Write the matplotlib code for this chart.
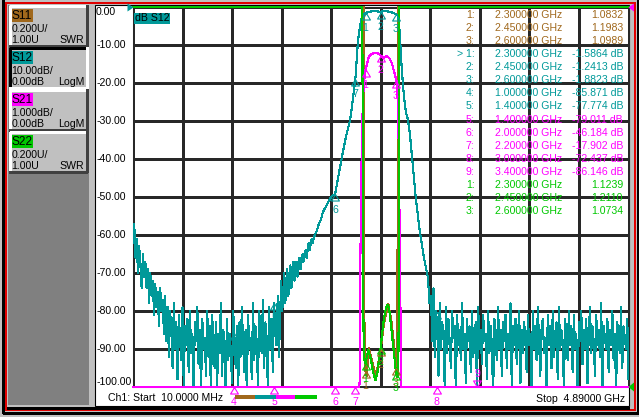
import numpy as np
import matplotlib.pyplot as plt
from matplotlib.patches import Rectangle, Polygon

plt.rcParams['font.family'] = ['Liberation Sans', 'DejaVu Sans']
plt.rcParams['lines.antialiased'] = False   # crisp, like the analyzer screen

BROWN = '#a0681c'
TEAL = '#009999'
MAGENTA = '#ff00ff'
GREEN = '#00c800'
GRID = '#282828'
FS = 7.6

# sweep (GHz)
f_start, f_stop = 0.01, 4.89

# ---- S12, dB (10 dB/div, ref 0 dB at top) ----
s12_floor_lo = [-62, -57, -66, -61, -70, -63, -68, -74, -65, -71,
                -67, -74, -69, -78, -70, -76, -72, -81, -73, -79, -75, -84, -74, -80, -77, -86,
                -76, -88, -79, -92, -80, -85, -95, -78, -90, -83, -98, -81, -87, -93, -79, -100,
                -84, -89, -82, -96, -80, -91, -86, -101, -83, -88,
                -79, -94, -85, -102, -82, -90, -87, -97, -80, -92, -84, -103, -81, -89, -95, -83,
                -100, -86, -91, -78, -97, -85, -88, -104, -82, -93, -86, -90, -99, -80, -87, -95,
                -84, -101, -83, -92, -79, -89, -96, -85, -102, -81, -90, -87, -98,
                -78, -93, -84, -88, -100, -80, -86, -91, -77, -95, -83, -87, -101, -79, -90, -82,
                -96, -78, -85, -89, -76, -92, -80]
s12_mid_f = [1.47, 1.48, 1.50, 1.51, 1.53, 1.54, 1.56, 1.57, 1.59, 1.60, 1.62, 1.63, 1.65,
             1.66, 1.68, 1.69, 1.71, 1.72, 1.74, 1.75, 1.77, 1.78, 1.80, 1.82, 1.84, 1.86,
             1.88, 1.90, 1.92, 1.94, 1.96, 1.98, 2.00,
             2.05, 2.10, 2.15, 2.20, 2.215, 2.226, 2.246, 2.262, 2.278, 2.30, 2.33, 2.37,
             2.41, 2.45, 2.49, 2.53, 2.57, 2.60, 2.62, 2.63, 2.645, 2.656, 2.67, 2.685, 2.70,
             2.718, 2.738, 2.768, 2.797, 2.837, 2.876, 2.915, 2.93]
s12_mid_db = [-72, -80, -70, -78, -69, -76, -68, -74, -67, -72, -67, -71, -66,
              -69, -65, -67, -64, -66, -62, -64, -61, -62, -60, -59, -57, -56,
              -54, -53, -52, -51, -50, -49.5, -49.3,
              -42, -35, -29.5, -19.0, -13, -8.7, -5.0, -2.8, -2.0, -1.59, -1.3, -1.1,
              -1.15, -1.24, -1.1, -1.2, -1.5, -1.88, -2.3, -4.0, -10.5, -15.8, -21, -25, -28,
              -29.7, -33.7, -42.4, -50.8, -59.5, -66, -71.3, -78]
s12_floor_hi = [-76, -88, -74, -92, -80, -84, -97, -78, -90, -83, -86, -100, -79, -91, -82, -88, -95, -80, -87, -84,
                -102, -81, -89, -85, -93, -78, -90, -86, -99, -82, -88, -84, -96, -80, -92, -87, -83, -101, -79, -90,
                -85, -94, -81, -88, -86, -98, -80, -91, -84, -89, -103, -82, -87, -93, -79, -90, -85, -97, -83, -88,
                -81, -95, -86, -90, -78, -100, -84, -89, -82, -94, -87, -80, -99, -85, -91, -83, -88, -96, -81, -89,
                -86, -102, -80, -90, -84, -93, -79, -88, -97, -85, -82, -91, -87, -100, -81, -89, -84, -95, -80, -92,
                -86, -83, -98, -79, -90, -85, -88, -101, -82, -87, -93, -80, -89, -84, -96, -81, -90, -86, -104, -83,
                -88, -80, -94, -85, -90, -82, -99, -86, -79, -91, -84, -88, -97, -81, -89, -85, -92, -78, -100, -84,
                -87, -90, -82, -96, -85, -89, -80, -93, -86, -102, -83, -88, -91, -79, -95, -84, -87, -90, -82, -98]

# ---- S21, dB (1 dB/div, ref 0 dB at top) ----
s21_f = [0.01, 1.0, 1.4, 2.0, 2.2, 2.238, 2.244, 2.248, 2.258, 2.268, 2.28, 2.29, 2.30,
         2.312, 2.327, 2.344, 2.377, 2.410, 2.443, 2.475, 2.502, 2.534, 2.558, 2.583,
         2.607, 2.617, 2.623, 2.635, 2.643, 2.647, 3.0, 3.4, 4.89]
s21_db = [-70, -86, -79.011, -46.184, -17.902, -10.5, -9.8, -7.0, -4.5, -3.0, -2.2, -1.85, -1.66,
          -1.53, -1.35, -1.26, -1.22, -1.2, -1.26, -1.34, -1.29, -1.34, -1.47, -1.71,
          -1.97, -2.45, -2.97, -5.5, -7.2, -10.5, -72.437, -86.146, -85]

# ---- S11 / S22, SWR (0.2 U/div, ref 1.00 U at bottom) ----
s11_f = [0.01, 2.283, 2.29, 2.30, 2.312, 2.334, 2.361, 2.403, 2.45, 2.482, 2.524, 2.558,
         2.59, 2.60, 2.608, 2.614, 2.62, 4.89]
s11_swr = [5.0, 5.0, 1.20, 1.0832, 1.06, 1.205, 1.142, 1.053, 1.1983, 1.337, 1.437, 1.337,
           1.17, 1.0989, 1.11, 1.30, 5.0, 5.0]
s22_f = [0.01, 2.268, 2.28, 2.29, 2.30, 2.327, 2.354, 2.374, 2.398, 2.418, 2.45, 2.462,
         2.482, 2.502, 2.517, 2.531, 2.551, 2.571, 2.591, 2.60, 2.615, 2.625, 2.632, 4.89]
s22_swr = [5.0, 5.0, 1.30, 1.14, 1.1239, 1.195, 1.142, 1.079, 1.037, 1.079, 1.211, 1.274,
           1.363, 1.416, 1.432, 1.416, 1.326, 1.221, 1.126, 1.0734, 1.053, 1.195, 5.0, 5.0]

# ---- markers ----
s12_mk_num = [1, 2, 3, 4, 5, 6, 7, 8]
s12_mk_f = [2.3, 2.45, 2.6, 1.0, 1.4, 2.0, 2.2, 3.0]
s12_mk_db = [-1.5864, -1.2413, -1.8823, -85.871, -77.774, -49.3, -19.0, -80.3]
s21_mk_num = [1, 2, 3, 4, 5, 6, 7, 8, 9]
s21_mk_f = [2.3, 2.45, 2.6, 1.0, 1.4, 2.0, 2.2, 3.0, 3.4]
s21_mk_db = [-1.66, -1.26, -1.95, -86, -79.011, -46.184, -17.902, -72.437, -86.146]
swr_mk_num = [1, 2, 3]
swr_mk_f = [2.3, 2.45, 2.6]
s11_mk_swr = [1.0832, 1.1983, 1.0989]
s22_mk_swr = [1.1239, 1.2110, 1.0734]

# ---- marker table ----
tbl_num = ['1:', '2:', '3:', '> 1:', '2:', '3:', '4:', '5:', '5:', '6:', '7:', '8:', '9:', '1:', '2:', '3:']
tbl_freq = [2.3, 2.45, 2.6, 2.3, 2.45, 2.6, 1.0, 1.4, 1.4, 2.0, 2.2, 3.0, 3.4, 2.3, 2.45, 2.6]
tbl_val = ['1.0832', '1.1983', '1.0989', '-1.5864 dB', '-1.2413 dB', '-1.8823 dB', '-85.871 dB',
           '-77.774 dB', '-79.011 dB', '-46.184 dB', '-17.902 dB', '-72.437 dB', '-86.146 dB',
           '1.1239', '1.2110', '1.0734']
tbl_trace = ['S11'] * 3 + ['S12'] * 5 + ['S21'] * 5 + ['S22'] * 3
colors = {'S11': BROWN, 'S12': TEAL, 'S21': MAGENTA, 'S22': GREEN}


def db10(v):        # 1 dB/div trace on the 10-div grid
    return np.clip(np.asarray(v, float) * 10, -100, 0)


def swr_disp(v):    # SWR 0.2/div, 1.00 at bottom
    return np.clip(-100 + 50 * (np.asarray(v, float) - 1), -100, 0)


f12 = np.concatenate([np.linspace(0.01, 1.46, len(s12_floor_lo)), s12_mid_f,
                      np.linspace(2.945, 4.89, len(s12_floor_hi))])
d12 = np.concatenate([s12_floor_lo, s12_mid_db, s12_floor_hi])

W, H = 639, 417
fig = plt.figure(figsize=(W / 100, H / 100), dpi=100)
fig.patch.set_facecolor('#c0c0c0')

# ---------- screen frame / left panel ----------
bg = fig.add_axes([0, 0, 1, 1], zorder=0)
bg.set_xlim(0, W)
bg.set_ylim(H, 0)
bg.axis('off')
bg.add_patch(Rectangle((94.5, 4.5), 534, 401, facecolor='white', edgecolor='black', lw=0.8))
bg.add_patch(Rectangle((8, 5), 81, 400, facecolor='#808080', edgecolor='none'))
bg.plot([5.5, 5.5, 635, 635, 5.5], [2.5, 410, 410, 2.5, 2.5], color='#e00000', lw=1.1)
bg.plot([3, 3, 637.5, 637.5], [0.5, 412.5, 412.5, 0.5], color='black', lw=0.8)
bg.plot([8, 628], [408, 408], color='black', lw=0.8)

boxes = [('S11', BROWN, '0.200U/', '1.00U', 'SWR', 5),
         ('S12', TEAL, '10.00dB/', '0.00dB', 'LogM', 47),
         ('S21', MAGENTA, '1.000dB/', '0.00dB', 'LogM', 89),
         ('S22', GREEN, '0.200U/', '1.00U', 'SWR', 131)]
for name, col, l2, l3, fmt, top in boxes:
    bg.add_patch(Rectangle((9, top), 78, 41, facecolor='#c0c0c0', edgecolor='none'))
    lt, dk = ('black', 'white') if name == 'S12' else ('white', '#404040')
    bg.plot([9.5, 9.5, 86.5], [top + 41, top + 0.5, top + 0.5], color=lt, lw=0.9)
    bg.plot([9.5, 86.5, 86.5], [top + 40.5, top + 40.5, top + 0.5], color=dk, lw=0.9)
    bg.add_patch(Rectangle((11, top + 4), 22, 13, facecolor=col, edgecolor='none'))
    bg.text(11.5, top + 10.8, name, fontsize=8.6, va='center', ha='left', color='black')
    bg.text(11.5, top + 23.5, l2, fontsize=FS, va='center', ha='left')
    bg.text(11.5, top + 35, l3, fontsize=FS, va='center', ha='left')
    bg.text(84.5, top + 35, fmt, fontsize=FS, va='center', ha='right')

# ---------- measurement grid ----------
x0, x1, y0, y1 = 133, 628.5, 7, 387
ax = fig.add_axes([x0 / W, 1 - y1 / H, (x1 - x0) / W, (y1 - y0) / H], zorder=2)
ax.patch.set_alpha(0)
ax.set_xlim(f_start, f_stop)
ax.set_ylim(-100, 0)
ax.set_xticks(np.linspace(f_start, f_stop, 11))
ax.set_xticklabels([])
yt = np.arange(-100, 1, 10)
ax.set_yticks(yt)
ax.set_yticklabels([f'{v:.2f}' for v in yt], fontsize=FS)
ax.tick_params(length=0, axis='y', pad=26.6)
ax.tick_params(length=0, axis='x')
for t, v in zip(ax.get_yticklabels(), yt):
    t.set_ha('left')
    t.set_va('top' if v == 0 else 'bottom' if v == -100 else 'center')
ax.grid(True, color=GRID, lw=0.75)
for s in ax.spines.values():
    s.set_color(GRID)
    s.set_linewidth(0.75)

# traces
ax.plot(s11_f, swr_disp(s11_swr), color=BROWN, lw=0.8, clip_on=False, zorder=3)
ax.plot(f12, d12, color=TEAL, lw=0.8, zorder=4)
ax.plot(s21_f, db10(s21_db), color=MAGENTA, lw=0.8, clip_on=False, zorder=5)
ax.plot(s22_f, swr_disp(s22_swr), color=GREEN, lw=0.8, clip_on=False, zorder=6)

UP = [(0, 0), (0.6, -1), (-0.6, -1), (0, 0)]
DOWN = [(0, 0), (0.6, 1), (-0.6, 1), (0, 0)]


def put_markers(fs, ys, nums, col, z):
    for f, y, n in zip(fs, ys, nums):
        inv = (col == MAGENTA and n == 9)
        ax.plot([f], [y], marker=DOWN if inv else UP, ms=9.4, mfc='none', mec=col,
                mew=0.8, ls='none', clip_on=False, zorder=z)
        ax.annotate(str(n), (f, y), xytext=(0, 9.5 if inv else -11), textcoords='offset points',
                    ha='center', va='center', color=col, fontsize=FS, annotation_clip=False,
                    zorder=z)


put_markers(swr_mk_f, swr_disp(s11_mk_swr), swr_mk_num, BROWN, 7)
put_markers(s12_mk_f, np.asarray(s12_mk_db), s12_mk_num, TEAL, 8)
put_markers(s21_mk_f, db10(s21_mk_db), s21_mk_num, MAGENTA, 9)
put_markers(swr_mk_f, swr_disp(s22_mk_swr), swr_mk_num, GREEN, 10)

# ---------- overlay: annotations and marker table ----------
ov = fig.add_axes([0, 0, 1, 1], zorder=3)
ov.set_xlim(0, W)
ov.set_ylim(H, 0)
ov.axis('off')
ov.patch.set_alpha(0)

ov.add_patch(Rectangle((134, 13), 36, 10.5, facecolor=TEAL, edgecolor='none'))
ov.text(135, 18.3, 'dB S12', fontsize=FS, va='center', ha='left', color='black')
ov.add_patch(Polygon([(127.5, 3.5), (133.5, 7.5), (127.5, 11.5)], closed=True, color=TEAL, lw=0))
ov.add_patch(Polygon([(634, 3.5), (628.5, 7.5), (634, 11.5)], closed=True, color=MAGENTA, lw=0))
ov.add_patch(Polygon([(634, 382.5), (628.5, 387), (634, 391.5)], closed=True, color=GREEN, lw=0))

for i, (n, f, v, tr) in enumerate(zip(tbl_num, tbl_freq, tbl_val, tbl_trace)):
    y = 15 + 13.07 * i
    c = colors[tr]
    ov.text(474.5, y, n, fontsize=FS, ha='right', va='center', color=c)
    ov.text(495, y, f'{f:.6f} GHz', fontsize=FS, ha='left', va='center', color=c)
    ov.text(623, y, v, fontsize=FS, ha='right', va='center', color=c)

ov.text(108, 398, 'Ch1: Start  10.0000 MHz', fontsize=FS, ha='left', va='center')
ov.text(625, 398.5, 'Stop  4.89000 GHz', fontsize=FS, ha='right', va='center')
for (xa, xb), c in zip([(237, 255), (257, 275), (278, 296), (297, 315)],
                       [BROWN, TEAL, MAGENTA, GREEN]):
    ov.plot([xa, xb], [397, 397], color=c, lw=1.5)

fig.savefig('out.png', dpi=100, facecolor=fig.get_facecolor())
